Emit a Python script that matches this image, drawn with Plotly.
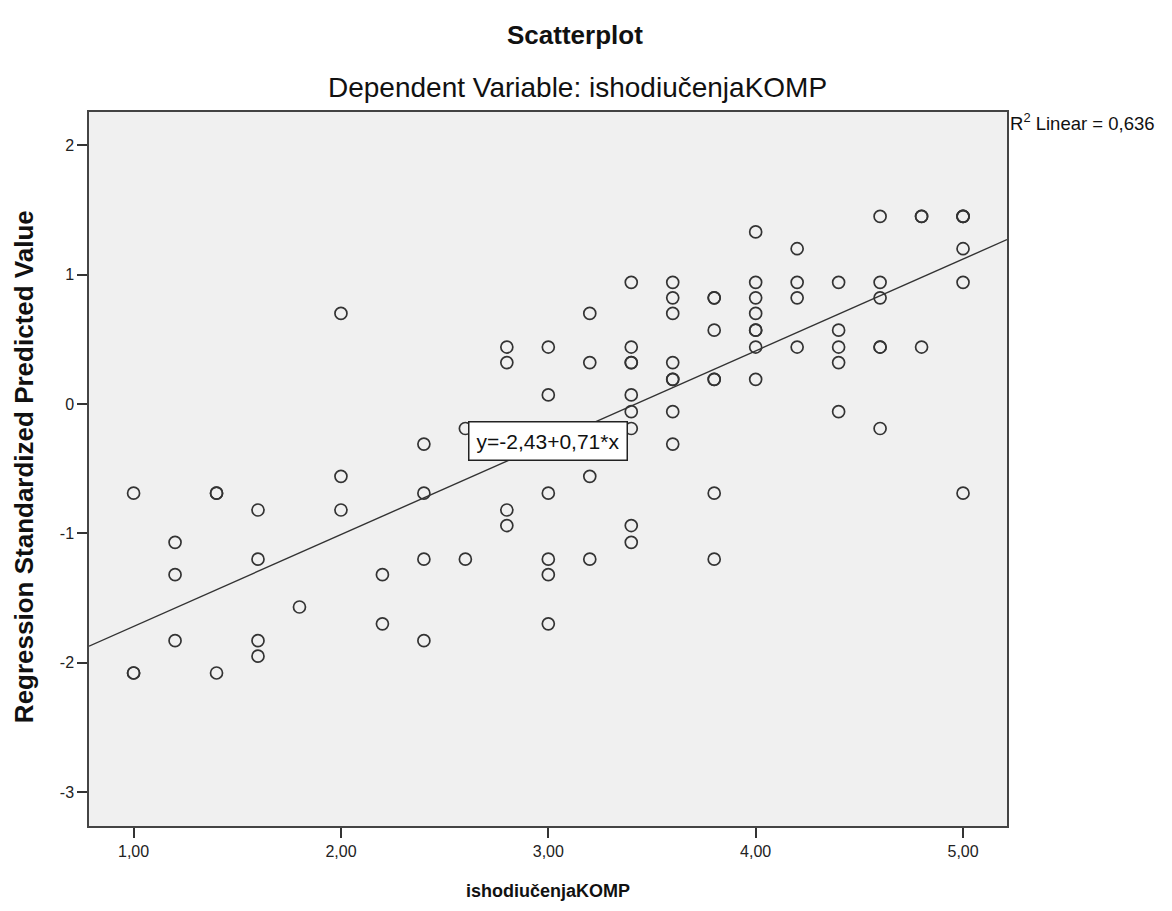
import plotly.graph_objects as go

# ---- data ----
x_vals = [1.0, 1.2, 1.4, 1.6, 1.8, 2.0, 2.2, 2.4, 2.6, 2.8, 3.0, 3.2, 3.4, 3.6, 3.8, 4.0, 4.2, 4.4, 4.6, 4.8, 5.0]
y_by_x = [
    [-0.69, -2.08, -2.08],
    [-1.07, -1.32, -1.83],
    [-0.69, -0.69, -2.08],
    [-0.82, -1.20, -1.83, -1.95],
    [-1.57],
    [0.70, -0.56, -0.82],
    [-1.32, -1.70],
    [-0.31, -0.69, -1.20, -1.83],
    [-0.19, -1.20],
    [0.44, 0.32, -0.82, -0.94],
    [0.44, 0.07, -0.19, -0.69, -1.20, -1.32, -1.70],
    [0.70, 0.32, -0.56, -1.20],
    [0.94, 0.44, 0.32, 0.32, 0.07, -0.06, -0.19, -0.94, -1.07],
    [0.94, 0.82, 0.70, 0.32, 0.19, 0.19, -0.06, -0.31],
    [0.82, 0.82, 0.57, 0.19, 0.19, -0.69, -1.20],
    [1.33, 0.94, 0.82, 0.70, 0.57, 0.57, 0.44, 0.19],
    [1.20, 0.94, 0.82, 0.44],
    [0.94, 0.57, 0.44, 0.32, -0.06],
    [1.45, 0.94, 0.82, 0.44, 0.44, -0.19],
    [1.45, 1.45, 0.44],
    [1.45, 1.45, 1.45, 1.20, 0.94, -0.69],
]
intercept = -2.43
slope = 0.71
r_squared = "0,636"
x_tick_vals = [1, 2, 3, 4, 5]
x_tick_labels = ["1,00", "2,00", "3,00", "4,00", "5,00"]
y_tick_vals = [-3, -2, -1, 0, 1, 2]
y_tick_labels = ["-3", "-2", "-1", "0", "1", "2"]
x_range = [0.785, 5.212]
y_range = [-3.263, 2.257]

xs = []
ys = []
for xv, col in zip(x_vals, y_by_x):
    for yv in col:
        xs.append(xv)
        ys.append(yv)

fig = go.Figure()
fig.add_trace(go.Scatter(
    x=[x_range[0], x_range[1]],
    y=[intercept + slope * x_range[0], intercept + slope * x_range[1]],
    mode="lines", line=dict(color="#333333", width=1.4),
    hoverinfo="skip", showlegend=False,
))
fig.add_trace(go.Scatter(
    x=xs, y=ys, mode="markers",
    marker=dict(symbol="circle-open", size=12, color="#333333", line=dict(width=1.7)),
    showlegend=False,
))

font_family = "Liberation Sans, Arial, sans-serif"

fig.update_layout(
    width=1164, height=903,
    margin=dict(l=81, r=165, t=104, b=85),
    paper_bgcolor="white", plot_bgcolor="#f0f0f0",
    font=dict(family=font_family, color="#222222"),
    showlegend=False,
)
fig.update_xaxes(
    range=x_range, tickvals=x_tick_vals, ticktext=x_tick_labels,
    showgrid=False, zeroline=False,
    showline=True, mirror=True, linecolor="#444444", linewidth=1.5,
    ticks="outside", ticklen=10, tickwidth=1.5, tickcolor="#333333",
    tickfont=dict(size=16, color="#222222"),
)
fig.update_yaxes(
    range=y_range, tickvals=y_tick_vals, ticktext=y_tick_labels,
    showgrid=False, zeroline=False,
    showline=True, mirror=True, linecolor="#444444", linewidth=1.5,
    ticks="outside", ticklen=10, tickwidth=1.5, tickcolor="#333333",
    tickfont=dict(size=16, color="#222222"),
)

annotations = [
    dict(text="<b>Scatterplot</b>", xref="paper", yref="paper", x=0.529, y=1.108,
         xanchor="center", yanchor="middle", showarrow=False,
         font=dict(size=26, color="#111111")),
    dict(text="Dependent Variable: ishodiučenjaKOMP", xref="paper", yref="paper", x=0.532, y=1.0343,
         xanchor="center", yanchor="middle", showarrow=False,
         font=dict(size=28, color="#111111")),
    dict(text="<b>ishodiučenjaKOMP</b>", xref="paper", yref="paper", x=0.5, y=-0.091,
         xanchor="center", yanchor="middle", showarrow=False,
         font=dict(size=18, color="#111111")),
    dict(text="<b>Regression Standardized Predicted Value</b>", xref="paper", yref="paper",
         x=-0.0705, y=0.503, textangle=-90, xanchor="center", yanchor="middle", showarrow=False,
         font=dict(size=26, color="#111111")),
    dict(text="R<sup>2</sup> Linear = " + r_squared, xref="paper", yref="paper", x=1.001, y=0.986,
         xanchor="left", yanchor="middle", showarrow=False,
         font=dict(size=18.5, color="#111111")),
    dict(text="y=" + f"{intercept:.2f}".replace(".", ",") + "+" + f"{slope:.2f}".replace(".", ",") + "*x",
         xref="x", yref="y", x=3.0, y=-0.29, xanchor="center", yanchor="middle", showarrow=False,
         font=dict(size=21, color="#111111"), bgcolor="white", bordercolor="#222222",
         borderwidth=1.5, borderpad=7),
]
fig.update_layout(annotations=annotations)

fig.write_html("out.html")
